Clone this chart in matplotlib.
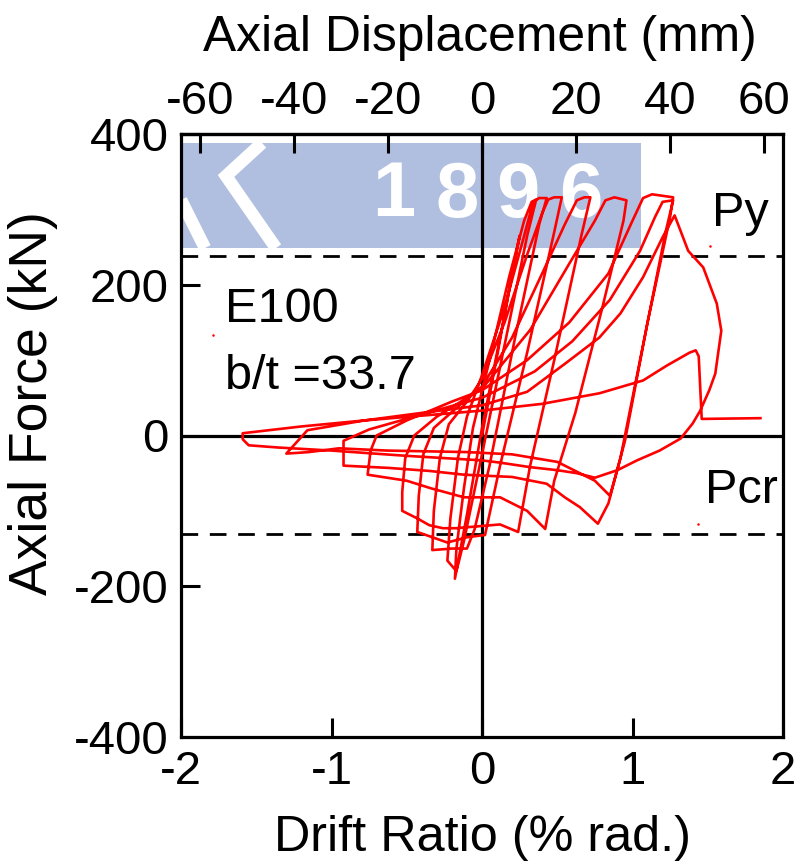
import matplotlib
matplotlib.use("Agg")
import matplotlib.pyplot as plt
from matplotlib.patches import Rectangle

plt.rcParams['font.family'] = ['Liberation Sans', 'DejaVu Sans']
plt.rcParams['axes.unicode_minus'] = False

# Brace E100: axial force history against drift ratio (% rad.)
drift = [
    0.00, 0.10, 0.20, 0.25,
    0.15, 0.00, -0.10, -0.18,
    -0.17, -0.12, -0.06, 0.05, 0.18, 0.28, 0.33, 0.36,
    0.30, 0.15, 0.00, -0.12, -0.17, -0.23,
    -0.21, -0.16, -0.10, 0.00, 0.15, 0.28, 0.34, 0.38, 0.43,
    0.38, 0.22, 0.05, -0.05, -0.10, -0.20, -0.33,
    -0.32, -0.28, -0.22, -0.10, 0.00, 0.15, 0.30, 0.40, 0.44, 0.48, 0.53,
    0.48, 0.30, 0.12, 0.02, -0.10, -0.23, -0.33, -0.43,
    -0.42, -0.39, -0.32, -0.15, 0.00, 0.20, 0.40, 0.55, 0.63, 0.68, 0.72,
    0.66, 0.48, 0.32, 0.24, 0.12, 0.00, -0.17, -0.26, -0.35, -0.43, -0.53,
    -0.53, -0.51, -0.45, -0.30, -0.10, 0.00, 0.32, 0.58, 0.75, 0.82, 0.88, 0.96,
    0.94, 0.80, 0.62, 0.48, 0.42, 0.30, 0.12, -0.12, -0.34, -0.50, -0.76,
    -0.74, -0.70, -0.50, -0.20, 0.00, 0.30, 0.58, 0.84, 1.00, 1.07, 1.13, 1.20, 1.27,
    1.25, 1.10, 0.95, 0.84, 0.77, 0.65, 0.55, 0.43, 0.20, -0.12, -0.35, -0.62, -0.92,
    -0.92, -0.75, -0.45, -0.15, 0.00, 0.35, 0.60, 0.85, 1.05, 1.15, 1.20, 1.27,
    1.22, 1.05, 0.92, 0.85, 0.75, 0.50, 0.20, -0.10, -0.63, -0.95, -1.15, -1.30,
    -1.16, -0.78, -0.40, 0.00, 0.30, 0.55, 0.78, 0.92, 1.07, 1.20, 1.28,
    1.37, 1.47, 1.56, 1.59,
    1.55, 1.51, 1.45, 1.40, 1.32, 1.18, 1.03, 0.90, 0.75, 0.63, 0.50, 0.32, 0.12,
    0.00, -0.50, -1.00, -1.35, -1.55, -1.59,
    -1.59, -1.20, -0.78, -0.30, 0.00, 0.40, 0.78, 1.07, 1.23, 1.38, 1.42, 1.44,
    1.46, 1.85,
]
force = [
    0, 105, 215, 265,
    160, 10, -105, -190,
    -150, -70, 10, 100, 210, 285, 310, 313,
    265, 120, -25, -140, -180, -166,
    -110, -30, 25, 80, 170, 265, 310, 315, 315,
    280, 130, -40, -125, -150, -150, -152,
    -100, -30, 15, 45, 75, 150, 240, 295, 313, 316, 316,
    270, 110, -40, -132, -135, -142, -135, -128,
    -80, -25, 10, 40, 65, 130, 215, 280, 312, 316, 316,
    265, 100, -40, -128, -118, -120, -123, -123, -119, -110, -100,
    -75, -30, 0, 25, 50, 62, 140, 228, 285, 312, 316, 312,
    285, 170, 30, -60, -124, -100, -82, -82, -70, -60, -52,
    -20, 0, 20, 45, 60, 100, 150, 215, 285, 315, 320, 318, 316,
    290, 150, -7, -90, -117, -95, -82, -64, -55, -52, -47, -43, -40,
    -7, 8, 25, 42, 50, 85, 125, 180, 245, 290, 310, 312,
    270, 100, -30, -80, -60, -35, -25, -22, -20, -17, -22, -24,
    7, 20, 30, 40, 58, 95, 130, 162, 210, 263, 292,
    245, 223, 175, 139,
    82, 60, 33, 16, -4, -20, -33, -46, -56, -50, -46, -42, -36,
    -33, -27, -20, -16, -13, -5,
    3, 12, 20, 28, 33, 42, 56, 73, 93, 110, 113, 105,
    22, 23,
]

py_load = 238      # yield load Py (kN)
pcr_load = -131    # buckling load Pcr (kN)
mm_per_drift = 32.0  # axial displacement (mm) per 1 % drift

drift_ticks = [-2, -1, 0, 1, 2]
force_ticks = [-400, -200, 0, 200, 400]
disp_ticks = [-60, -40, -20, 0, 20, 40, 60]

W, H = 795, 867
fig = plt.figure(figsize=(W / 100, H / 100), dpi=100)

# faint university emblem in the page background
bg = fig.add_axes([0, 0, 1, 1])
bg.set_xlim(0, W)
bg.set_ylim(H, 0)
bg.axis('off')
logo = '#b0bfe0'
bg.add_patch(Rectangle((181, 143), 460, 105, color=logo, lw=0))
bg.plot([262, 226, 276], [143, 176, 248], color='white', lw=9,
        solid_capstyle='butt', solid_joinstyle='miter')
bg.plot([181, 205], [200, 248], color='white', lw=9, solid_capstyle='butt')
for ch, xc in zip('1896', [394, 457, 518, 581]):
    bg.text(xc, 196, ch, color='white', fontsize=56, fontweight='bold',
            ha='center', va='center')

ax = fig.add_axes([181 / W, 1 - 737 / H, 602 / W, 603 / H])
ax.set_facecolor('none')
ax.plot(drift, force, color='#ff0000', lw=1.9, zorder=3)
ax.axhline(0, color='black', lw=2.3, zorder=2)
ax.axvline(0, color='black', lw=2.3, zorder=2)
ax.axhline(py_load, color='black', lw=2.0, ls=(0, (6, 4.2)), zorder=2)
ax.axhline(pcr_load, color='black', lw=2.0, ls=(0, (6, 4.2)), zorder=2)

# stray plotting specks
ax.plot([-1.79, 1.515, 1.435], [133, 252, -117], ls='none', marker='o',
        ms=1.8, color='#ff0000', mew=0)

ax.set_xlim(-2, 2)
ax.set_ylim(-400, 400)
ax.set_xticks(drift_ticks)
ax.set_yticks(force_ticks)
ax.set_xticklabels([str(v) for v in drift_ticks])
ax.set_yticklabels([str(v) for v in force_ticks])
ax.tick_params(direction='in', length=14, width=2.2, labelsize=34, pad=9)
for s in ax.spines.values():
    s.set_linewidth(2.3)

top = ax.secondary_xaxis('top', functions=(lambda d: d * mm_per_drift,
                                            lambda m: m / mm_per_drift))
top.set_xticks(disp_ticks)
top.set_xticklabels([str(v) for v in disp_ticks])
top.tick_params(direction='in', length=14, width=2.2, labelsize=34, pad=7)
top.spines['top'].set_linewidth(2.3)

ax.text(-1.71, 150, 'E100', fontsize=35, va='baseline')
ax.text(-1.71, 62, 'b/t =33.7', fontsize=35, va='baseline')
ax.text(1.528, 278, 'Py', fontsize=35, va='baseline')
ax.text(1.48, -89, 'Pcr', fontsize=35, va='baseline')

fig.text(480 / W, 1 - 38 / H, 'Axial Displacement (mm)', fontsize=35.8,
         ha='center', va='center')
fig.text(482 / W, 1 - 838 / H, 'Drift Ratio (% rad.)', fontsize=36.3,
         ha='center', va='center')
fig.text(33 / W, 1 - 403 / H, 'Axial Force (kN)', fontsize=38.5,
         ha='center', va='center', rotation=90)

fig.savefig('out.png', dpi=100)
